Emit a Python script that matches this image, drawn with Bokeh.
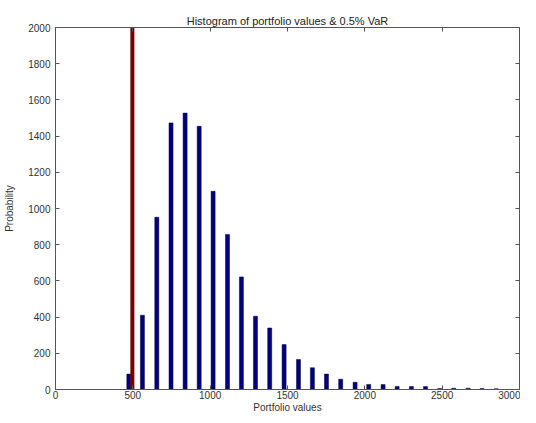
from bokeh.plotting import figure
from bokeh.models import LinearAxis, FixedTicker, Range1d, CustomJSTickFormatter
from bokeh.embed import file_html
from bokeh.resources import INLINE

# Histogram bin centres (portfolio values) and counts
bin_centers = [474, 562, 655, 747, 838, 929, 1019, 1112, 1202, 1293, 1385, 1478,
               1571, 1661, 1752, 1844, 1937, 2025, 2118, 2209, 2301, 2392, 2484,
               2575, 2668, 2758, 2849]
counts = [85, 410, 952, 1473, 1527, 1454, 1095, 857, 622, 405, 340, 248,
          166, 120, 85, 57, 40, 28, 27, 17, 17, 16, 5, 7, 7, 5, 4]
var_value = 497
var_top = 2000
x_ticks = [0, 500, 1000, 1500, 2000, 2500, 3000]
y_ticks = [0, 200, 400, 600, 800, 1000, 1200, 1400, 1600, 1800, 2000]

FONT = "Liberation Sans"

p = figure(width=520, height=415, output_backend="svg", toolbar_location=None,
           x_range=Range1d(0, 3000), y_range=Range1d(0, 2000),
           min_border_left=55, min_border_right=1, min_border_top=27,
           min_border_bottom=21, title="Histogram of portfolio values & 0.5% VaR")
p.title.align = "center"
p.title.text_font = FONT
p.title.text_font_size = "11px"
p.title.text_font_style = "normal"
p.title.text_color = "#222222"
p.title.standoff = 2

p.xgrid.visible = False
p.ygrid.visible = False
p.outline_line_color = "#555555"
p.background_fill_color = "white"
p.border_fill_color = "white"

p.vbar(x=bin_centers, top=counts, bottom=0, width=26,
       fill_color="#000080", line_color="#000040", line_width=0.5)
p.segment(x0=[var_value], y0=[0], x1=[var_value], y1=[var_top],
          line_color="#7a0000", line_width=4)

for ax in (p.xaxis[0], p.yaxis[0]):
    ax.major_tick_in = 4
    ax.major_tick_out = 0
    ax.minor_tick_in = 0
    ax.minor_tick_out = 0
    ax.axis_line_color = "#555555"
    ax.major_tick_line_color = "#555555"
    ax.major_label_text_font = FONT
    ax.major_label_text_font_size = "10px"
    ax.major_label_text_color = "#333333"
    ax.axis_label_text_font = FONT
    ax.axis_label_text_font_size = "10px"
    ax.axis_label_text_font_style = "normal"
    ax.axis_label_text_color = "#333333"
    ax.major_label_standoff = 2
    ax.axis_label_standoff = 1

p.xaxis[0].ticker = FixedTicker(ticks=x_ticks)
p.yaxis[0].ticker = FixedTicker(ticks=y_ticks)
p.xaxis[0].axis_label = "Portfolio values"
p.xaxis[0].major_label_standoff = 1
p.xaxis[0].axis_label_standoff = 0
p.yaxis[0].axis_label = "Probability"
p.yaxis[0].axis_label_standoff = 10
p.yaxis[0].major_label_standoff = 5

empty = CustomJSTickFormatter(code="return ''")
for side, ticks in (("right", y_ticks), ("above", x_ticks)):
    a = LinearAxis(ticker=FixedTicker(ticks=ticks), formatter=empty,
                   major_tick_in=4, major_tick_out=0, minor_tick_in=0, minor_tick_out=0,
                   axis_line_color="#555555", major_tick_line_color="#555555",
                   major_label_text_font_size="1px", major_label_standoff=0)
    p.add_layout(a, side)

open("out.html", "w").write(file_html(p, INLINE))
